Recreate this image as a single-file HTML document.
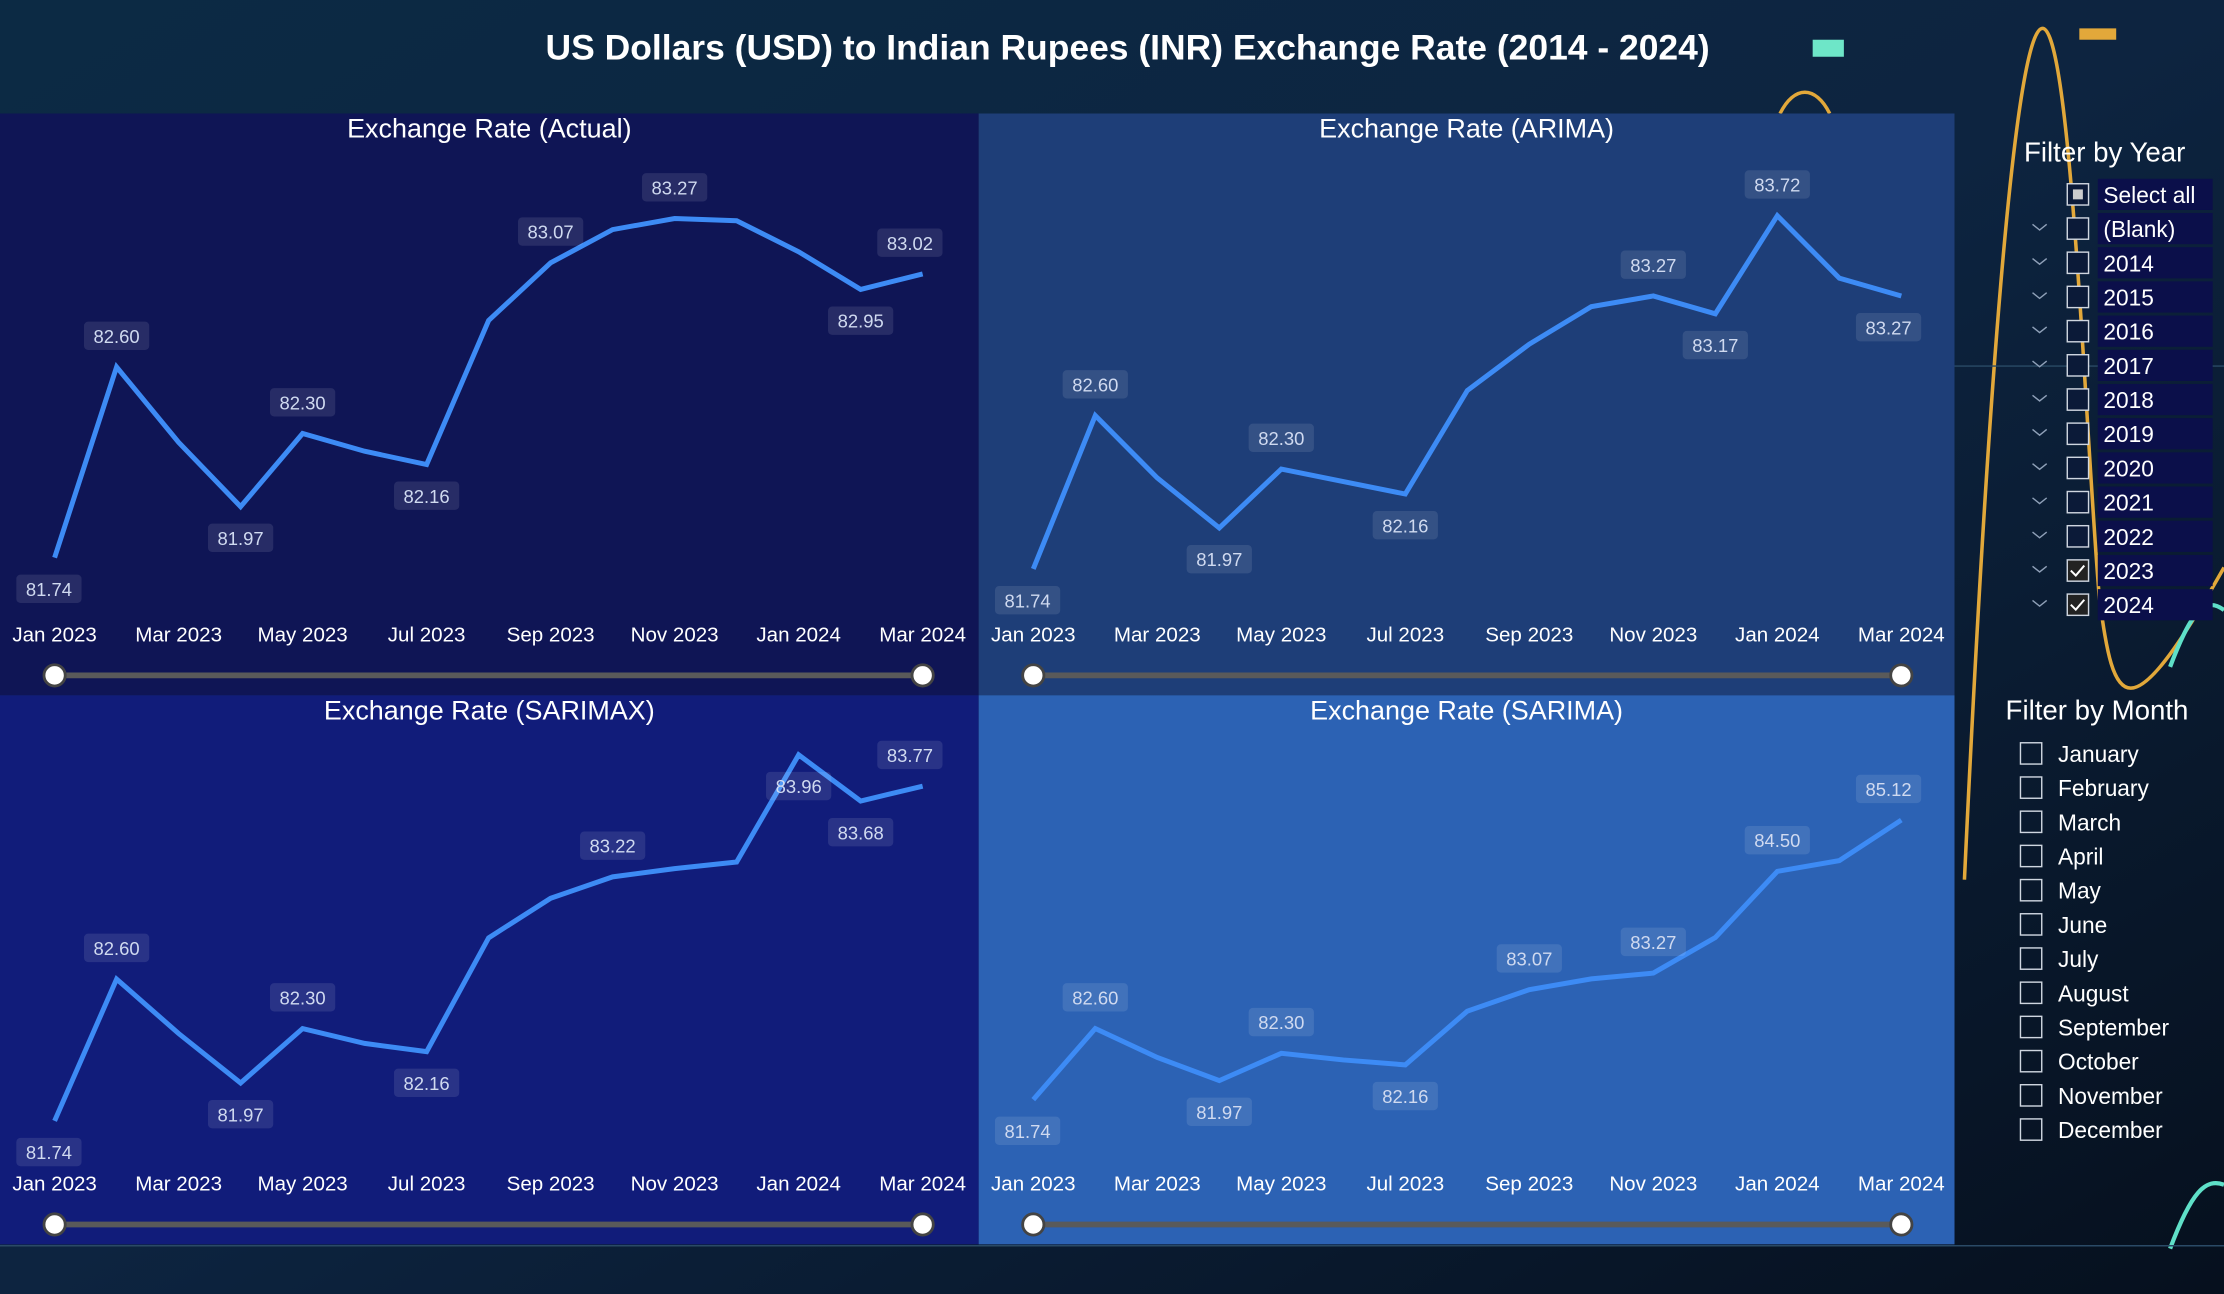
<!DOCTYPE html>
<html><head><meta charset="utf-8">
<style>
html,body{margin:0;padding:0;background:#0b1b30;overflow:hidden}
svg{display:block}
text{font-family:"Liberation Sans",sans-serif}
</style></head>
<body>
<svg id="root" width="2224" height="1294" viewBox="0 0 1568 912" preserveAspectRatio="none" xmlns="http://www.w3.org/2000/svg">
<defs>
<linearGradient id="bg" x1="0" y1="0" x2="1" y2="1">
<stop offset="0" stop-color="#0c2a44"/><stop offset="0.5" stop-color="#0d2440"/><stop offset="1" stop-color="#06101e"/>
</linearGradient>
</defs>
<rect x="0" y="0" width="1568" height="912" fill="url(#bg)"/>
<g fill="none">
<path d="M1385 620 C1400 300 1420 20 1440 20 C1460 20 1470 300 1480 420 C1490 500 1500 520 1568 400" stroke="#e2a83a" stroke-width="2.5"/>
<path d="M1255 80 C1265 60 1280 60 1290 80" stroke="#e2a83a" stroke-width="2.5"/>
<path d="M1530 470 C1545 430 1555 420 1568 430" stroke="#5fe0c8" stroke-width="3"/>
<path d="M1530 880 C1545 840 1555 830 1568 835" stroke="#5fe0c8" stroke-width="3"/>
<rect x="1278" y="28" width="22" height="12" fill="#6ee6c8"/>
<rect x="1466" y="20" width="26" height="8" fill="#e2a83a"/>
<line x1="0" y1="878" x2="1568" y2="878" stroke="#2a4a66" stroke-width="1"/>
<line x1="1378" y1="258" x2="1568" y2="258" stroke="#2a4a66" stroke-width="1"/>
</g>
<text x="795" y="42" text-anchor="middle" fill="#ffffff" font-size="25" font-weight="bold">US Dollars (USD) to Indian Rupees (INR) Exchange Rate (2014 - 2024)</text>
<g id="charts"></g>
<g id="filters"></g>
</svg>
<script>
const NS="http://www.w3.org/2000/svg";
const months=["Jan 2023","Feb 2023","Mar 2023","Apr 2023","May 2023","Jun 2023","Jul 2023","Aug 2023","Sep 2023","Oct 2023","Nov 2023","Dec 2023","Jan 2024","Feb 2024","Mar 2024"];
const actualValues=[81.74,82.60,82.26,81.97,82.30,82.22,82.16,82.81,83.07,83.22,83.27,83.26,83.12,82.95,83.02];
const arimaValues=[81.74,82.60,82.25,81.97,82.30,82.23,82.16,82.74,83.00,83.21,83.27,83.17,83.72,83.37,83.27];
const sarimaxValues=[81.74,82.60,82.27,81.97,82.30,82.21,82.16,82.85,83.09,83.22,83.27,83.31,83.96,83.68,83.77];
const sarimaValues=[81.74,82.60,82.25,81.97,82.30,82.22,82.16,82.81,83.07,83.20,83.27,83.70,84.50,84.63,85.12];
const actualLabels=[[0,-1],[1,1],[3,-1],[4,1],[6,-1],[8,1],[10,1],[13,-1],[14,1]];
const arimaLabels=[[0,-1],[1,1],[3,-1],[4,1],[6,-1],[10,1],[11,-1],[12,1],[14,-1]];
const sarimaxLabels=[[0,-1],[1,1],[3,-1],[4,1],[6,-1],[9,1],[12,-1],[13,-1],[14,1]];
const sarimaLabels=[[0,-1],[1,1],[3,-1],[4,1],[6,-1],[8,1],[10,1],[12,1],[14,1]];
const years=["Select all","(Blank)","2014","2015","2016","2017","2018","2019","2020","2021","2022","2023","2024"];
const monthNames=["January","February","March","April","May","June","July","August","September","October","November","December"];

function el(tag,attrs,parent){const e=document.createElementNS(NS,tag);for(const k in attrs)e.setAttribute(k,attrs[k]);parent.appendChild(e);return e;}
const charts=document.getElementById('charts');
const panels=[
 {name:'actual',title:'Exchange Rate (Actual)',x:0,y:80,w:690,h:410,fill:'#0f1555',vals:actualValues,labs:actualLabels,yTop:154,yBot:393},
 {name:'arima',title:'Exchange Rate (ARIMA)',x:690,y:80,w:688,h:410,fill:'#1e3e78',vals:arimaValues,labs:arimaLabels,yTop:152,yBot:401},
 {name:'sarimax',title:'Exchange Rate (SARIMAX)',x:0,y:490,w:690,h:387,fill:'#111c7a',vals:sarimaxValues,labs:sarimaxLabels,yTop:532,yBot:790},
 {name:'sarima',title:'Exchange Rate (SARIMA)',x:690,y:490,w:688,h:387,fill:'#2c62b4',vals:sarimaValues,labs:sarimaLabels,yTop:578,yBot:775}
];
panels.forEach(p=>{
 const g=el('g',{},charts);
 
 
 const bg=el('rect',{x:p.x,y:p.y,width:p.w,height:p.h,fill:p.fill},g);
 
 
 const t=el('text',{x:p.x+p.w/2,y:p.y+17,'text-anchor':'middle',fill:'#fff','font-size':19},g);
 t.textContent=p.title;
 
 
 const x0=p.x+38.5,x1=p.x+650.5;
 const xs=i=>x0+(x1-x0)*i/(months.length-1);
 const mn=Math.min(...p.vals),mx=Math.max(...p.vals);
 const ys=v=>p.yBot-(v-mn)/(mx-mn)*(p.yBot-p.yTop);
 months.forEach((m,i)=>{ if(i%2) return;
  const tl=el('text',{x:xs(i),y:p.y+(p.h===410?372:349),'text-anchor':'middle',fill:'#ffffff','font-size':14.5},g);
  tl.textContent=m;
  
  
 });
 const line=el('polyline',{points:p.vals.map((v,i)=>xs(i)+','+ys(v)).join(' '),fill:'none',stroke:'#3d8bf5','stroke-width':3.5,'stroke-linejoin':'miter'},g);
 
 
 p.labs.forEach(([i,dir])=>{
  const v=p.vals[i];const cx=xs(i)+(i===0?-4:i===14?-9:0);const cy=ys(v)+(dir>0?-22:22);
  const r=el('rect',{x:cx-23,y:cy-10,width:46,height:20,rx:3,fill:'rgba(255,255,255,0.1)'},g);
  
  
  const tx=el('text',{x:cx,y:cy+5,'text-anchor':'middle',fill:'#d0daf0','font-size':13},g);
  tx.textContent=v.toFixed(2);
  
  
 });
 const sy=p.y+(p.h===410?396:373);
 const sl=el('line',{x1:x0,y1:sy,x2:x1,y2:sy,stroke:'#5a5a5a','stroke-width':4},g);
 
 
 [x0,x1].forEach((hx,k)=>{
  const c=el('circle',{cx:hx,cy:sy,r:7.5,fill:'#fff',stroke:'#444','stroke-width':2},g);
  
  
 });
});
const f=document.getElementById('filters');
const yt=el('text',{x:1427,y:114,fill:'#fff','font-size':19.5},f);
yt.textContent='Filter by Year';


years.forEach((y,i)=>{
 const cy=137+i*24.1;
 const row=el('g',{},f);
 
 
 el('rect',{x:1479,y:cy-11,width:81,height:22,fill:'#0b0f4a'},row);
 if(i>0){el('path',{d:`M${1433} ${cy-3} l5 4 l5 -4`,fill:'none',stroke:'#8fa0b8','stroke-width':1},row);}
 const checked=(y==='2023'||y==='2024');
 el('rect',{x:1457.5,y:cy-7.5,width:15,height:15,fill:checked?'#222':'#0b1a38',stroke:'#cfd6e0','stroke-width':1},row);
 if(y==='Select all') el('rect',{x:1461.5,y:cy-3.5,width:7,height:7,fill:'#ccc'},row);
 if(checked) el('path',{d:`M${1460} ${cy} l3.5 3.5 l6 -7`,fill:'none',stroke:'#fff','stroke-width':1.4},row);
 const tx=el('text',{x:1483,y:cy+6,fill:'#fff','font-size':16},row);
 tx.textContent=y;
});
const mt=el('text',{x:1414,y:507,fill:'#fff','font-size':19.5},f);
mt.textContent='Filter by Month';


monthNames.forEach((m,i)=>{
 const cy=531+i*24.1;
 const row=el('g',{},f);
 
 
 el('rect',{x:1424.5,y:cy-7.5,width:15,height:15,fill:'none',stroke:'#cfd6e0','stroke-width':1},row);
 const tx=el('text',{x:1451,y:cy+6,fill:'#fff','font-size':16},row);
 tx.textContent=m;
});
</script>
</body></html>
